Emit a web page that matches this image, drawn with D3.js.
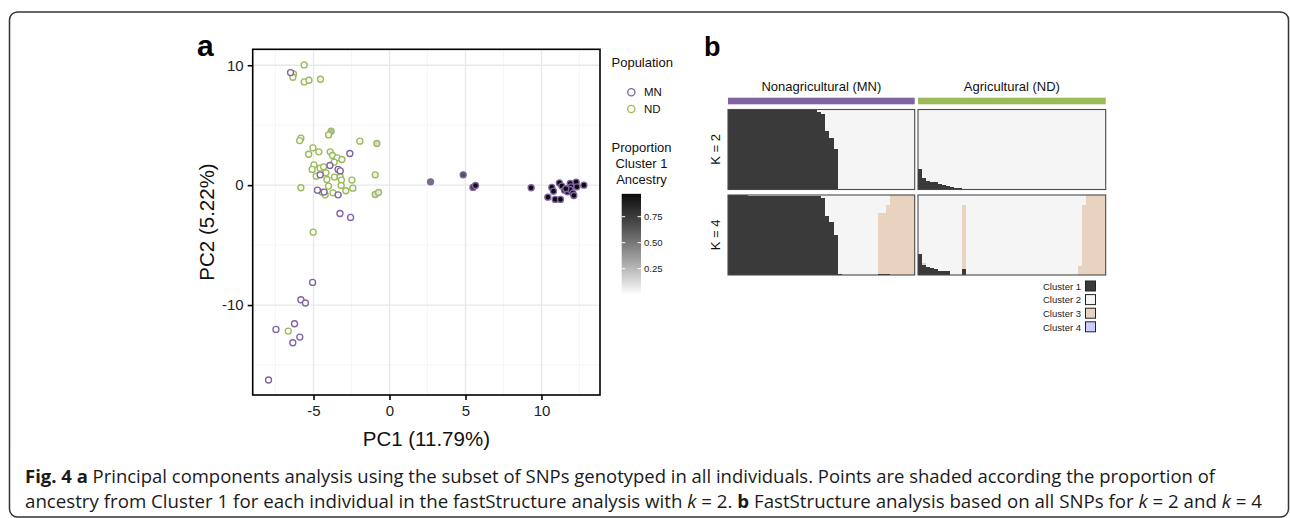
<!DOCTYPE html>
<html><head><meta charset="utf-8">
<script src="https://cdn.jsdelivr.net/npm/d3@7"></script>
<style>
html,body{margin:0;padding:0;background:#fff;}
svg{display:block;}
text{font-family:"Liberation Sans",Arial,Helvetica,sans-serif;}
.cap{font-family:"Open Sans","Noto Sans",sans-serif;}
</style></head>
<body>
<svg id="c" width="1290" height="518"></svg>
<script>
// ---------------- DATA ----------------
// Panel a: PCA points (population, PC1, PC2, proportion of Cluster 1 ancestry at k=2)
const ndPC1 = [-6.32,-6.36,-5.61,-5.61,-5.30,-4.54,-5.83,-5.91,-3.84,-4.01,-1.95,-0.83,-5.04,-4.65,-5.32,-3.90,-3.75,-3.44,-3.13,-3.64,-4.97,-5.09,-4.56,-4.34,-4.18,-3.62,-3.24,-3.16,-4.82,-4.12,-2.47,-0.94,-5.83,-4.01,-3.18,-4.45,-4.23,-3.72,-2.87,-2.41,-0.94,-0.72,-5.02,-6.66];
const ndPC2 = [9.28,9.00,10.03,8.61,8.75,8.83,3.92,3.72,4.50,4.19,3.67,3.47,3.11,2.78,2.58,2.78,2.47,2.28,2.14,1.92,1.69,1.31,1.42,1.53,1.03,0.67,0.69,0.42,0.75,0.47,0.42,0.86,-0.22,-0.08,-0.03,-0.58,-0.81,-0.64,-0.47,-0.25,-0.78,-0.61,-3.92,-12.17];
const ndAnc = [0.02,0.01,0.0,0.01,0.02,0.03,0.02,0.01,0.256,0.04,0.03,0.145,0.01,0.02,0.0,0.03,0.02,0.01,0.02,0.0,0.01,0.02,0.0,0.01,0.02,0.03,0.01,0.0,0.02,0.01,0.03,0.06,0.02,0.0,0.01,0.02,0.0,0.01,0.02,0.04,0.11,0.095,0.01,0.0];
const mnPC1 = [-6.51,-2.61,-3.92,-3.38,-3.24,-4.56,-4.74,-4.30,-3.38,-3.26,-2.56,-5.06,-5.83,-5.53,-6.25,-7.47,-5.90,-6.36,-7.96,2.70,4.85,5.49,5.66,9.32,10.68,10.79,10.42,10.90,11.25,11.18,11.34,11.51,11.71,11.89,11.93,11.87,12.06,12.13,12.28,12.33,12.79,11.60];
const mnPC2 = [9.39,2.64,1.64,1.31,1.19,0.86,-0.42,-0.58,-0.81,-2.36,-2.69,-8.11,-9.56,-9.83,-11.56,-12.03,-12.67,-13.14,-16.25,0.28,0.86,-0.19,-0.03,-0.22,-0.19,-0.50,-1.00,-1.19,-1.19,0.19,-0.08,-0.42,-0.56,0.14,-0.14,-0.36,-0.67,-0.86,0.25,-0.14,0.00,-0.30];
const mnAnc = [0,0,0,0,0,0,0,0,0,0,0,0,0,0,0,0,0,0,0,0.51,0.65,0.73,0.95,0.97,0.97,0.97,0.97,0.97,0.97,0.97,0.97,0.97,0.97,0.97,0.97,0.97,0.97,0.97,0.97,0.97,0.97,0.97];
const xTicks = [-5,0,5,10];
const yTicks = [-10,0,10];
const xMinor = [-7.5,-2.5,2.5,7.5,12.5];
const yMinor = [-15,-5,5];
const popNames = ["MN","ND"];
const ancTicks = [0.25,0.50,0.75];

// Panel b: fastStructure proportions per individual (sorted)
const groupNames = ["Nonagricultural (MN)","Agricultural (ND)"];
const kLabels = ["K = 2","K = 4"];
const clusterNames = ["Cluster 1","Cluster 2","Cluster 3","Cluster 4"];
const mnK2C1 = [1,1,1,1,1,.99,.99,.99,.99,.99,.99,.99,.99,.99,.99,.99,.99,.99,.99,.99,.99,.99,.975,.95,.73,.65,.51,.01,0,0,0,0,0,0,0,0,0,0,0,0,0,0,0,0,0,0];
const mnK4C1 = [1,1,1,1,1,.99,.99,.99,.99,.99,.99,.99,.99,.99,.99,.99,.99,.99,.99,.99,.99,.99,.99,.96,.74,.66,.5,.01,0,0,0,0,0,0,0,0,0,.015,.015,.015,0,0,0,0,0,0];
const mnK4C3 = [0,0,0,0,0,0,0,0,0,0,0,0,0,0,0,0,0,0,0,0,0,0,0,0,0,0,0,0,0,0,0,0,0,0,0,0,0,.765,.765,.86,1,1,1,1,1,1];
const mnK4C4 = [0,0,0,0,0,0,0,0,0,0,0,0,0,0,0,0,0,0,0,0,0,0,0,0,0,0,0,0,0,0,0,0,0,0,0,0,0,0,0,0,0,0,0,0,0,0];
const ndK2C1 = [.256,.145,.11,.095,.09,.065,.058,.045,.034,.022,.015,.012,0,0,0,0,0,0,0,0,0,0,0,0,0,0,0,0,0,0,0,0,0,0,0,0,0,0,0,0,0,0,0,0,0,0,0];
const ndK4C1 = [.26,.13,.1,.088,.08,.055,.05,.045,0,0,0,.07,0,0,0,0,0,0,0,0,0,0,0,0,0,0,0,0,0,0,0,0,0,0,0,0,0,0,0,0,0,0,0,0,0,0,0];
const ndK4C3 = [0,.02,0,0,0,0,0,0,0,0,0,.8,0,0,0,0,0,0,0,0,0,0,0,0,0,0,0,0,0,0,0,0,0,0,0,0,0,0,0,0,.11,.875,1,1,1,1,1];
const ndK4C4 = [0,0,0,0,0,0,0,0,0,0,0,0,0,0,0,0,0,0,0,0,0,0,0,0,0,0,0,0,0,0,0,0,0,0,0,0,0,0,0,0,0,0,0,0,0,0,0];

// ---------------- STYLE ----------------
const popColor = {MN:"#8064A2", ND:"#9BBB59"};
const clusterColor = ["#3a3a3a","#f5f5f5","#e8d3c1","#ccccff"];

const svg = d3.select("#c");

// outer frame
svg.append("rect").attr("x",9.5).attr("y",12).attr("width",1279).attr("height",505)
  .attr("rx",8).attr("fill","none").attr("stroke","#333").attr("stroke-width",1.5);

// ================= PANEL A =================
const L=252.7, R=600, T=49.3, B=395;
const x = d3.scaleLinear().domain([-9.0,13.85]).range([L,R]);
const y = d3.scaleLinear().domain([-17.5,11.33]).range([B,T]);
const fillScale = d3.scaleLinear().domain([0,1]).range(["#ffffff","#000000"]).interpolate(d3.interpolateLab);

const ga = svg.append("g");
ga.append("rect").attr("x",L).attr("y",T).attr("width",R-L).attr("height",B-T).attr("fill","#fff");
ga.selectAll(".xmin").data(xMinor).join("line").attr("x1",d=>x(d)).attr("x2",d=>x(d)).attr("y1",T).attr("y2",B)
  .attr("stroke","#f3f3f3").attr("stroke-width",0.8);
ga.selectAll(".ymin").data(yMinor).join("line").attr("y1",d=>y(d)).attr("y2",d=>y(d)).attr("x1",L).attr("x2",R)
  .attr("stroke","#f3f3f3").attr("stroke-width",0.8);
ga.selectAll(".xmaj").data(xTicks).join("line").attr("x1",d=>x(d)).attr("x2",d=>x(d)).attr("y1",T).attr("y2",B)
  .attr("stroke","#e8e8e8").attr("stroke-width",1.3);
ga.selectAll(".ymaj").data(yTicks).join("line").attr("y1",d=>y(d)).attr("y2",d=>y(d)).attr("x1",L).attr("x2",R)
  .attr("stroke","#e8e8e8").attr("stroke-width",1.3);

const pts = [];
ndPC1.forEach((v,i)=>pts.push({pop:"ND",x:v,y:ndPC2[i],a:ndAnc[i]}));
mnPC1.forEach((v,i)=>pts.push({pop:"MN",x:v,y:mnPC2[i],a:mnAnc[i]}));
ga.selectAll("circle.p").data(pts).join("circle").attr("class","p")
  .attr("cx",d=>x(d.x)).attr("cy",d=>y(d.y)).attr("r",3.0)
  .attr("fill",d=>fillScale(d.a)).attr("stroke",d=>popColor[d.pop]).attr("stroke-width",1.35);

ga.append("rect").attr("x",L).attr("y",T).attr("width",R-L).attr("height",B-T)
  .attr("fill","none").attr("stroke","#000").attr("stroke-width",1.6);

const xAxis = ga.append("g").attr("transform",`translate(0,${B})`)
  .call(d3.axisBottom(x).tickValues(xTicks).tickSize(5).tickPadding(5).tickFormat(d3.format("d")));
const yAxis = ga.append("g").attr("transform",`translate(${L},0)`)
  .call(d3.axisLeft(y).tickValues(yTicks).tickSize(5).tickPadding(4).tickFormat(d3.format("d")));
[xAxis,yAxis].forEach(a=>{
  a.select(".domain").remove();
  a.selectAll(".tick line").attr("stroke","#000").attr("stroke-width",1.6);
  a.selectAll(".tick text").attr("fill","#222").style("font-size","15px")
   .style("font-family","'Liberation Sans',Arial,sans-serif");
});
xAxis.selectAll(".tick text").text(d=>d<0?"-"+Math.abs(d):d);
yAxis.selectAll(".tick text").text(d=>d<0?"-"+Math.abs(d):d);

ga.append("text").attr("x",(L+R)/2).attr("y",446).attr("text-anchor","middle")
  .style("font-size","20.5px").attr("fill","#111").text("PC1 (11.79%)");
ga.append("text").attr("transform",`translate(214,222) rotate(-90)`).attr("text-anchor","middle")
  .style("font-size","20.5px").attr("fill","#111").text("PC2 (5.22%)");
ga.append("text").attr("x",197).attr("y",56).style("font-size","30px").style("font-weight","bold").text("a");

// legend: Population
const lg = svg.append("g");
lg.append("text").attr("x",611.5).attr("y",67).style("font-size","13px").attr("fill","#111").text("Population");
popNames.forEach((p,i)=>{
  lg.append("circle").attr("cx",631.3).attr("cy",92.3+i*16.7).attr("r",3.6).attr("fill","#fff")
    .attr("stroke",popColor[p]).attr("stroke-width",1.3);
  lg.append("text").attr("x",644).attr("y",96.3+i*16.7).style("font-size","11.5px").attr("fill","#111").text(p);
});
["Proportion","Cluster 1","Ancestry"].forEach((t,i)=>{
  lg.append("text").attr("x",641.5).attr("y",152+i*16).attr("text-anchor","middle")
    .style("font-size","13px").attr("fill","#111").text(t);
});
// colorbar
const cb = d3.scaleLinear().domain([0,1]).range([294.7,190.7]);
const maxAnc = d3.max(mnAnc);
const grad = svg.append("defs").append("linearGradient").attr("id","g1")
  .attr("x1",0).attr("x2",0).attr("y1",1).attr("y2",0);
d3.range(0,1.0001,0.1).forEach(t=>{
  grad.append("stop").attr("offset",t).attr("stop-color",fillScale(t*maxAnc));
});
const cbx0=621.7, cbx1=641;
lg.append("rect").attr("x",cbx0).attr("y",cb(maxAnc)).attr("width",cbx1-cbx0)
  .attr("height",cb(0)-cb(maxAnc)).attr("fill","url(#g1)");
ancTicks.forEach(t=>{
  lg.append("line").attr("x1",cbx0).attr("x2",cbx0+3.5).attr("y1",cb(t)).attr("y2",cb(t)).attr("stroke","#fff").attr("stroke-width",1);
  lg.append("line").attr("x1",cbx1-3.5).attr("x2",cbx1).attr("y1",cb(t)).attr("y2",cb(t)).attr("stroke","#fff").attr("stroke-width",1);
  lg.append("text").attr("x",644).attr("y",cb(t)+3.5).style("font-size","9.5px").attr("fill","#222").text(d3.format(".2f")(t));
});

// ================= PANEL B =================
const gb = svg.append("g");
gb.append("text").attr("x",704).attr("y",56).style("font-size","27px").style("font-weight","bold").text("b");
const cols = [
  {x0:728, x1:914.7, name:groupNames[0], color:popColor.MN, k2:[mnK2C1], k4:[mnK4C1,mnK4C4,mnK4C3]},
  {x0:918, x1:1105.7, name:groupNames[1], color:popColor.ND, k2:[ndK2C1], k4:[ndK4C1,ndK4C4,ndK4C3]}
];
const rows = [{y0:109.5,y1:189.5,key:"k2",clusters:[0]},{y0:195,y1:275,key:"k4",clusters:[0,3,2]}];

cols.forEach(c=>{
  gb.append("text").attr("x",(c.x0+c.x1)/2).attr("y",91).attr("text-anchor","middle")
    .style("font-size","13px").attr("fill","#111").text(c.name);
  gb.append("rect").attr("x",c.x0).attr("y",97.7).attr("width",c.x1-c.x0).attr("height",6.6).attr("fill",c.color);
  rows.forEach(r=>{
    const series = c[r.key];
    const n = series[0].length;
    const xb = d3.scaleBand().domain(d3.range(n)).range([c.x0,c.x1]).padding(0);
    const yb = d3.scaleLinear().domain([0,1]).range([r.y1,r.y0]);
    const g = gb.append("g").attr("shape-rendering","crispEdges");
    d3.range(n).forEach(i=>{
      let acc = 0;
      const segs = [];
      series.forEach((s,j)=>{ segs.push({c:r.clusters[j],lo:acc,hi:acc+s[i]}); acc+=s[i]; });
      segs.push({c:1,lo:acc,hi:1}); // Cluster 2: remaining share
      segs.forEach(sg=>{
        if(sg.hi-sg.lo<=0) return;
        g.append("rect").attr("x",xb(i)).attr("width",xb.bandwidth()+0.4)
          .attr("y",yb(sg.hi)).attr("height",yb(sg.lo)-yb(sg.hi)).attr("fill",clusterColor[sg.c]);
      });
    });
    gb.append("rect").attr("x",c.x0).attr("y",r.y0).attr("width",c.x1-c.x0).attr("height",r.y1-r.y0)
      .attr("fill","none").attr("stroke","#4a4a4a").attr("stroke-width",1.1);
  });
});
rows.forEach((r,i)=>{
  gb.append("text").attr("transform",`translate(719.5,${(r.y0+r.y1)/2}) rotate(-90)`).attr("text-anchor","middle")
    .style("font-size","13px").attr("fill","#111").text(kLabels[i]);
});
// cluster legend
clusterNames.forEach((nm,i)=>{
  const yy = 281+i*13.6;
  gb.append("rect").attr("x",1085.5).attr("y",yy).attr("width",10).attr("height",10)
    .attr("fill",clusterColor[i]).attr("stroke","#222").attr("stroke-width",1);
  gb.append("text").attr("x",1081).attr("y",yy+8.8).attr("text-anchor","end")
    .style("font-size","9.5px").attr("fill","#222").text(nm);
});

// ================= CAPTION =================
const cap = svg.append("g").attr("class","cap").style("font-size","17.6px").attr("fill","#1a1a1a");
const l1 = cap.append("text").attr("class","cap").attr("x",25).attr("y",483)
  .attr("textLength",1190).attr("lengthAdjust","spacingAndGlyphs");
l1.append("tspan").style("font-weight","bold").text("Fig. 4 a");
l1.append("tspan").text(" Principal components analysis using the subset of SNPs genotyped in all individuals. Points are shaded according the proportion of");
const l2 = cap.append("text").attr("class","cap").attr("x",25).attr("y",508)
  .attr("textLength",1237).attr("lengthAdjust","spacingAndGlyphs");
l2.append("tspan").text("ancestry from Cluster 1 for each individual in the fastStructure analysis with ");
l2.append("tspan").style("font-style","italic").text("k");
l2.append("tspan").text(" = 2. ");
l2.append("tspan").style("font-weight","bold").text("b");
l2.append("tspan").text(" FastStructure analysis based on all SNPs for ");
l2.append("tspan").style("font-style","italic").text("k");
l2.append("tspan").text(" = 2 and ");
l2.append("tspan").style("font-style","italic").text("k");
l2.append("tspan").text(" = 4");
</script>
</body></html>
